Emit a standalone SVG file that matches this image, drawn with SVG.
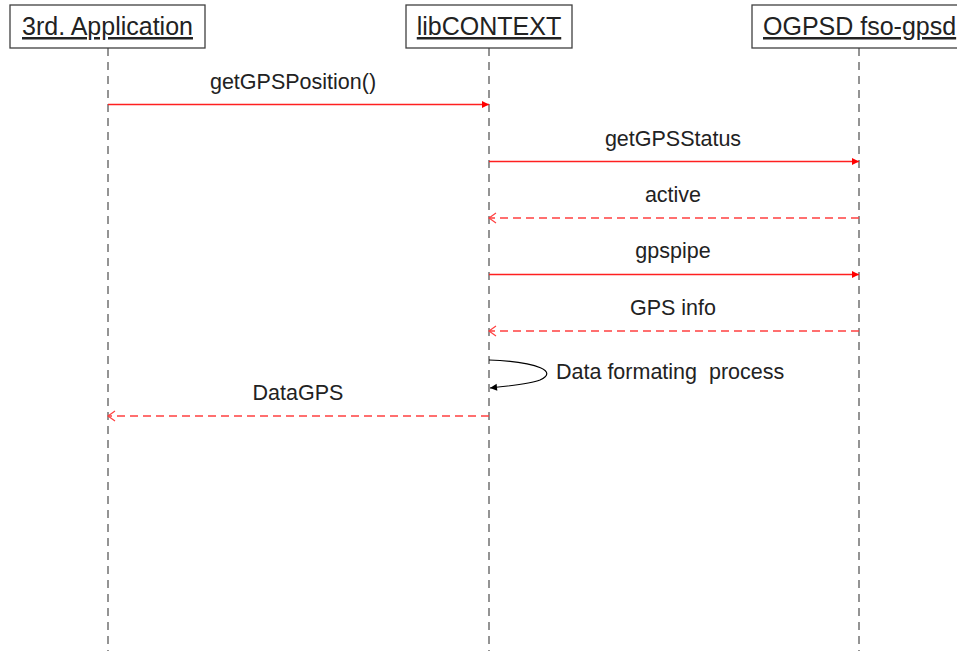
<svg xmlns="http://www.w3.org/2000/svg" width="957" height="651" viewBox="0 0 957 651">
  <style>
    .box { fill: #ffffff; stroke: #404040; stroke-width: 1.3; }
    .head { font-family: "Liberation Sans", Arial, sans-serif; font-size: 25px; fill: #222222; text-decoration: underline; }
    .life { stroke: #7a7a7a; stroke-width: 1.6; stroke-dasharray: 8 6; fill: none; }
    .lbl { font-family: "Liberation Sans", Arial, sans-serif; font-size: 21.5px; fill: #222222; text-anchor: middle; }
    .call { stroke: #ff2020; stroke-width: 1.4; fill: none; marker-end: url(#filled); }
    .ret { stroke: #ff4040; stroke-width: 1.4; stroke-dasharray: 8 5; fill: none; marker-end: url(#open); }
    .self { stroke: #000000; stroke-width: 1.2; fill: none; marker-end: url(#filledBlack); }
  </style>
  <defs>
    <marker id="filled" markerWidth="10" markerHeight="10" refX="8" refY="5" orient="auto" markerUnits="userSpaceOnUse">
      <path d="M1,1.5 L8,5 L1,8.5 Z" fill="#ff0000"/>
    </marker>
    <marker id="filledBlack" markerWidth="10" markerHeight="10" refX="8" refY="5" orient="auto" markerUnits="userSpaceOnUse">
      <path d="M1,1.5 L8,5 L1,8.5 Z" fill="#000000"/>
    </marker>
    <marker id="open" markerWidth="12" markerHeight="12" refX="9" refY="6" orient="auto" markerUnits="userSpaceOnUse">
      <path d="M2,1 L9,6 L2,11" fill="none" stroke="#ff4040" stroke-width="1.2"/>
    </marker>
  </defs>

  <!-- participants with their lifelines -->
  <g id="app">
    <line class="life" x1="108" y1="48" x2="108" y2="651"/>
    <rect class="box" x="10" y="5" width="195" height="43"/>
    <text class="head" x="107.5" y="35" text-anchor="middle">3rd. Application</text>
  </g>
  <g id="libcontext">
    <line class="life" x1="489" y1="48" x2="489" y2="651"/>
    <rect class="box" x="406" y="5" width="166" height="43"/>
    <text class="head" x="489" y="35" text-anchor="middle">libCONTEXT</text>
  </g>
  <g id="ogpsd">
    <line class="life" x1="859" y1="48" x2="859" y2="651"/>
    <rect class="box" x="752" y="5" width="215" height="43"/>
    <text class="head" x="763" y="35">OGPSD fso-gpsd</text>
  </g>

  <!-- messages -->
  <g id="connectors">
    <line class="call" x1="108" y1="104.5" x2="489" y2="104.5"/>
    <line class="call" x1="489" y1="161.5" x2="859" y2="161.5"/>
    <line class="ret" x1="859" y1="218" x2="489" y2="218"/>
    <line class="call" x1="489" y1="274.5" x2="859" y2="274.5"/>
    <line class="ret" x1="859" y1="331" x2="489" y2="331"/>
    <path class="self" d="M489,360 C540,362 558,372 540,380 C530,384 510,386 490,388"/>
    <line class="ret" x1="489" y1="416" x2="108" y2="416"/>
  </g>

  <!-- message labels -->
  <g id="labels">
    <text class="lbl" x="293" y="89">getGPSPosition()</text>
    <text class="lbl" x="673" y="146">getGPSStatus</text>
    <text class="lbl" x="673" y="202">active</text>
    <text class="lbl" x="673" y="258">gpspipe</text>
    <text class="lbl" x="673" y="315">GPS info</text>
    <text class="lbl" x="556" y="379" xml:space="preserve" style="text-anchor:start">Data formating  process</text>
    <text class="lbl" x="298" y="400">DataGPS</text>
  </g>
</svg>
